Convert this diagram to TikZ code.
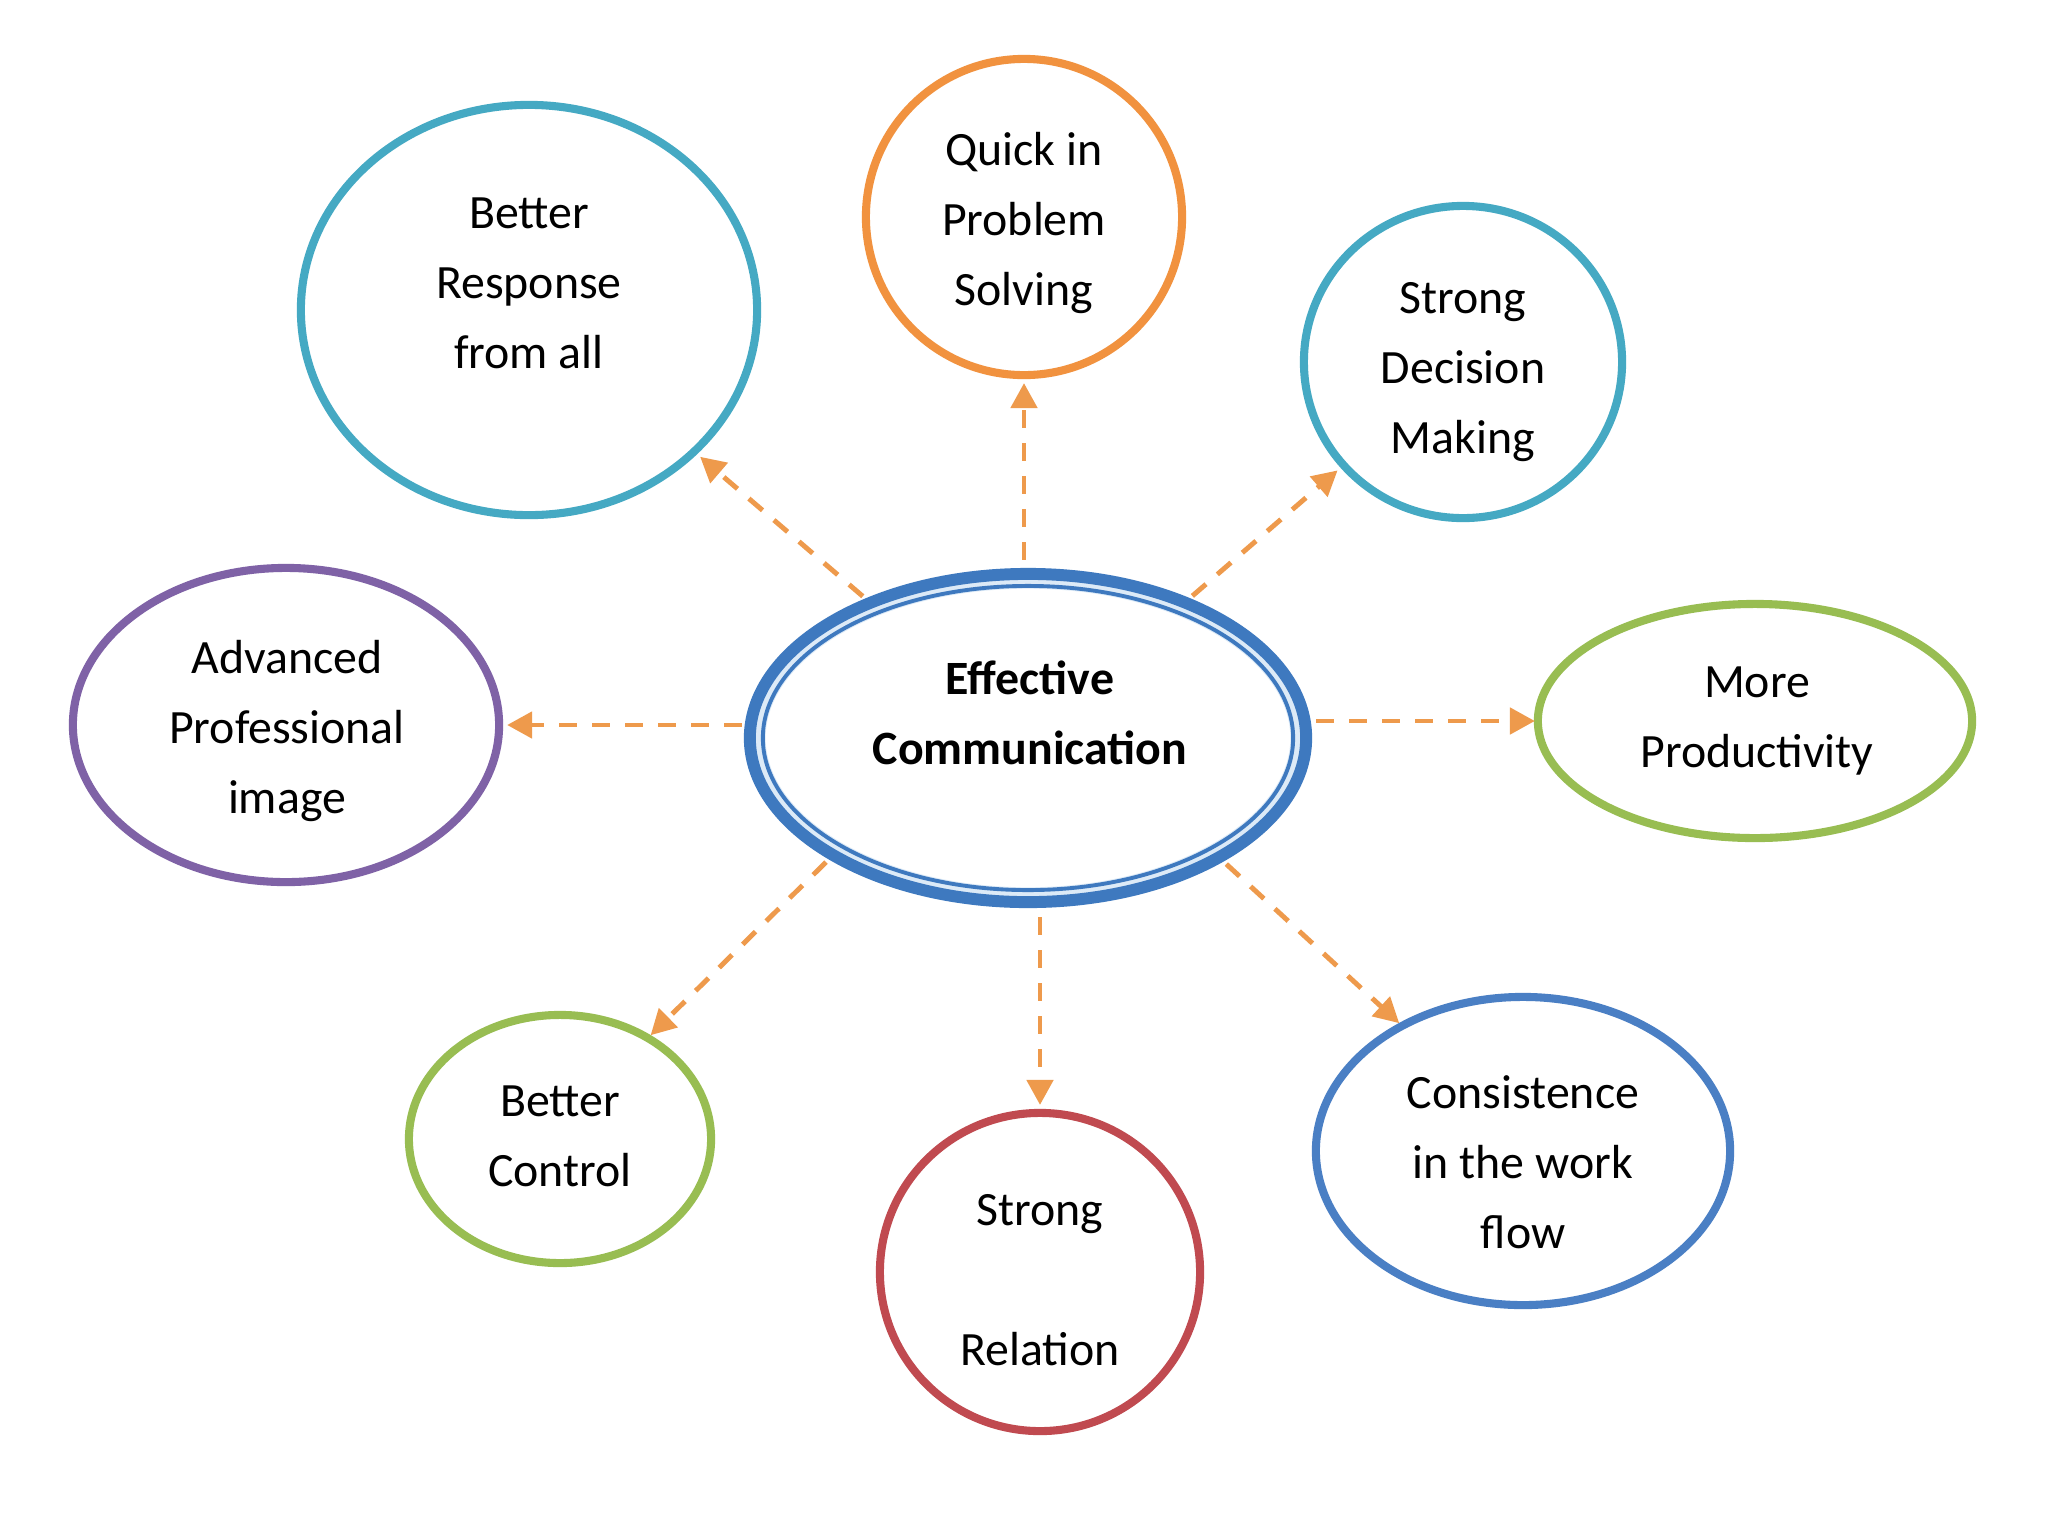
\documentclass[tikz,border=0pt]{standalone}
\usepackage{fontspec}
\setmainfont{Carlito}
\usetikzlibrary{shapes.geometric,arrows.meta}
\definecolor{cteal}{HTML}{45A9C3}
\definecolor{corange}{HTML}{F1923F}
\definecolor{cpurple}{HTML}{7F62A6}
\definecolor{cgreen}{HTML}{98BD52}
\definecolor{cred}{HTML}{C04A50}
\definecolor{cblue}{HTML}{4A7FC4}
\definecolor{ccenter}{HTML}{3E79BF}
\definecolor{cgap}{HTML}{DCEAF7}
\definecolor{carrow}{HTML}{EE9A4C}
\tikzset{
  bub/.style={ellipse, draw=#1, line width=2.3pt, inner sep=0pt, outer sep=0pt},
  lbl/.style={align=center, inner sep=0pt, font=\fontsize{13.6}{19.9}\selectfont},
  arr/.style={draw=carrow, line width=1.4pt, dash pattern=on 0.18cm off 0.15cm,
    -{Triangle[length=0.25cm,width=0.26cm,fill=carrow]}, shorten <=0.1cm, shorten >=0.08cm}
}
\begin{document}
\begin{tikzpicture}[x=0.01cm,y=-0.01cm]
\useasboundingbox[fill=white] (0,0) rectangle (2048,1536);

% center
\node[ellipse, draw=cgap, line width=5pt, minimum width=5.42cm, minimum height=3.16cm, inner sep=0pt] (cg) at (1028,738) {};
\node[ellipse, draw=ccenter, line width=3.4pt, minimum width=5.56cm, minimum height=3.28cm, inner sep=0pt, outer sep=0pt] (c) at (1028,738) {};
\node[ellipse, draw=ccenter, line width=1.1pt, minimum width=5.30cm, minimum height=3.04cm, inner sep=0pt] (ci) at (1028,738) {};
\node[lbl, font=\fontsize{13.6}{19.9}\selectfont\bfseries] (ct) at (1030,713) {Effective\\Communication};

% satellites
\node[bub=cteal, minimum width=4.56cm, minimum height=4.10cm] (br) at (529,310) {};
\node[lbl] (brt) at (529,283) {Better\\Response\\from all};

\node[bub=corange, minimum width=3.16cm, minimum height=3.16cm] (qp) at (1024,217) {};
\node[lbl] (qpt) at (1024,223) {Quick in\\Problem\\Solving};

\node[bub=cteal, minimum width=3.18cm, minimum height=3.12cm] (sd) at (1463,362) {};
\node[lbl] (sdt) at (1463,372) {Strong\\Decision\\Making};

\node[bub=cpurple, minimum width=4.26cm, minimum height=3.14cm] (ap) at (286,725) {};
\node[lbl] (apt) at (287,731) {Advanced\\Professional\\image};

\node[bub=cgreen, minimum width=4.34cm, minimum height=2.34cm] (mp) at (1755,721) {};
\node[lbl] (mpt) at (1757,721) {More\\Productivity};

\node[bub=cgreen, minimum width=3.02cm, minimum height=2.48cm] (bc) at (560,1139) {};
\node[lbl] (bct) at (560,1136) {Better\\Control};

\node[bub=cred, minimum width=3.20cm, minimum height=3.18cm] (sr) at (1040,1272) {};
\node[lbl] (srt) at (1040,1280) {Strong\\\mbox{}\\Relation};

\node[bub=cblue, minimum width=4.14cm, minimum height=3.08cm] (cw) at (1523,1151) {};
\node[lbl] (cwt) at (1523,1162) {Consistence\\in the work\\flow};

% connectors
\draw[arr] (c) -- (br);
\draw[arr, shorten <=0.14cm] (c.north -| qp.south) -- (qp.south);
\draw[arr] (c) -- (sd);
\draw[arr, shorten <=0.08cm] (c.west |- ap.east) -- (ap.east);
\draw[arr, shorten >=0.03cm] (c.east |- mp.west) -- (mp.west);
\draw[arr, shorten >=0.04cm] (c.211) -- (bc.49);
\draw[arr, shorten <=0.15cm] (c.south -| sr.north) -- (sr.north);
\draw[arr, shorten >=0.04cm] (c.328) -- (cw.134);
\end{tikzpicture}
\end{document}
